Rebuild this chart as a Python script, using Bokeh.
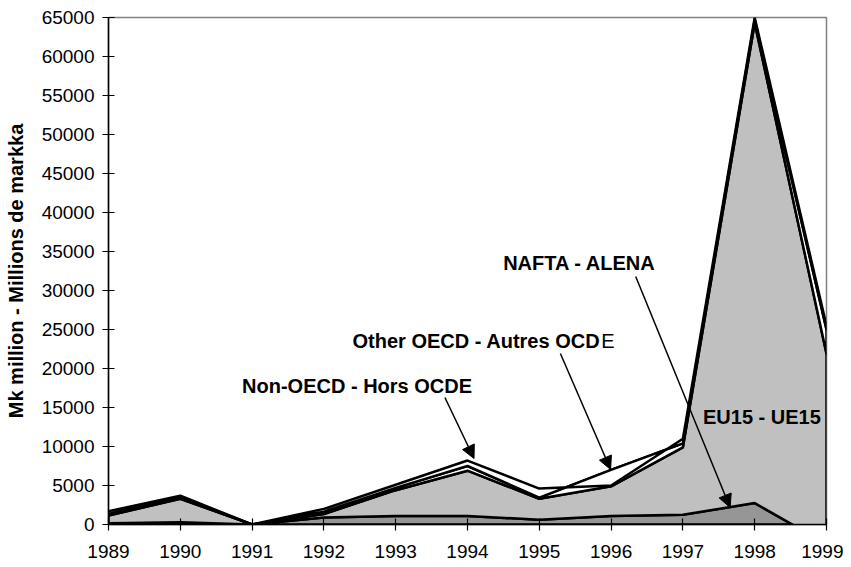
import numpy as np
from bokeh.plotting import figure
from bokeh.models import Range1d, FixedTicker, Label, Arrow, NormalHead, ColumnDataSource
from bokeh.embed import file_html
from bokeh.resources import INLINE

# ---- data (Mk million) ----
years = [1989, 1990, 1991, 1992, 1993, 1994, 1995, 1996, 1997, 1998, 1999]
nafta = [150, 300, 0, 900, 1100, 1100, 600, 1100, 1250, 2750, -2500]
eu15 = [1000, 3000, 0, 450, 3300, 5800, 2700, 3800, 8650, 61550, 24400]
other_oecd = [200, 150, 0, 300, 300, 600, 150, 2100, 500, 400, 3100]
non_oecd = [350, 250, 0, 350, 400, 700, 1150, -2000, 600, 300, 500]

series_names = ["NAFTA - ALENA", "EU15 - UE15", "Other OECD - Autres OCDE", "Non-OECD - Hors OCDE"]
series_values = [nafta, eu15, other_oecd, non_oecd]
series_colors = ["#969696", "#C0C0C0", "#FFFFFF", "#FFFFFF"]

y_ticks = list(range(0, 65001, 5000))

FONT = "Liberation Sans"

p = figure(width=843, height=566, output_backend="svg", toolbar_location=None,
           x_range=Range1d(1989, 1999), y_range=Range1d(0, 65000),
           min_border_left=108, min_border_right=17, min_border_top=17, min_border_bottom=42)
p.background_fill_color = "white"
p.border_fill_color = "white"
p.outline_line_color = "#808080"
p.outline_line_width = 1.5
p.xgrid.visible = False
p.ygrid.visible = False

# stacked polygons (Excel-like stacked area)
xs, ys = [], []
bottom = np.zeros(len(years))
for vals in series_values:
    top = bottom + np.array(vals, dtype=float)
    xs.append(list(years) + list(years[::-1]))
    ys.append(list(top) + list(bottom[::-1]))
    bottom = top
src = ColumnDataSource(dict(xs=xs, ys=ys, color=series_colors))
p.patches("xs", "ys", source=src, fill_color="color", line_color="black",
          line_width=2.5, line_join="round")

# axes
p.xaxis.ticker = FixedTicker(ticks=years)
p.yaxis.ticker = FixedTicker(ticks=y_ticks)
p.yaxis.formatter.use_scientific = False
for ax in (p.xaxis[0], p.yaxis[0]):
    ax.axis_line_color = "black"
    ax.axis_line_width = 1.5
    ax.major_tick_line_color = "black"
    ax.major_tick_line_width = 1.2
    ax.major_tick_in = 6
    ax.major_tick_out = 6
    ax.minor_tick_line_color = None
    ax.major_label_text_font = FONT
    ax.major_label_text_font_size = "19px"
    ax.major_label_text_color = "black"
p.xaxis.major_label_standoff = 14
p.yaxis.major_label_standoff = 8
p.yaxis.axis_label = "Mk million - Millions de markka"
p.yaxis.axis_label_text_font = FONT
p.yaxis.axis_label_text_font_size = "20px"
p.yaxis.axis_label_text_font_style = "bold"
p.yaxis.axis_label_text_color = "black"
p.yaxis.axis_label_standoff = 12


# annotation placement helpers (pixel positions in the 851x567 picture -> data)
def dx(px):
    return 1989 + (px - 111) / 71.5


def dy(py):
    return (524 - py) * 65000 / 507


def lab(text, px, py, style="bold"):
    p.add_layout(Label(x=dx(px), y=dy(py), text=text, text_font=FONT, text_font_size="20px",
                       text_font_style=style, text_color="black", text_baseline="middle",
                       text_align="left"))


lab("NAFTA - ALENA", 504, 262)
lab("Other OECD - Autres OCD", 354, 340)
lab("E", 601.8, 340, "normal")
lab("Non-OECD - Hors OCDE", 244, 385)
lab("EU15 - UE15", 703, 416)


def arrow(x0, y0, x1, y1):
    p.add_layout(Arrow(end=NormalHead(size=13, fill_color="black", line_color="black"),
                       x_start=dx(x0), y_start=dy(y0), x_end=dx(x1), y_end=dy(y1),
                       line_color="black", line_width=1.5))


arrow(636, 276, 730, 507)
arrow(561, 353, 611, 469)
arrow(446, 397, 475, 458)

open("out.html", "w").write(file_html(p, INLINE))
